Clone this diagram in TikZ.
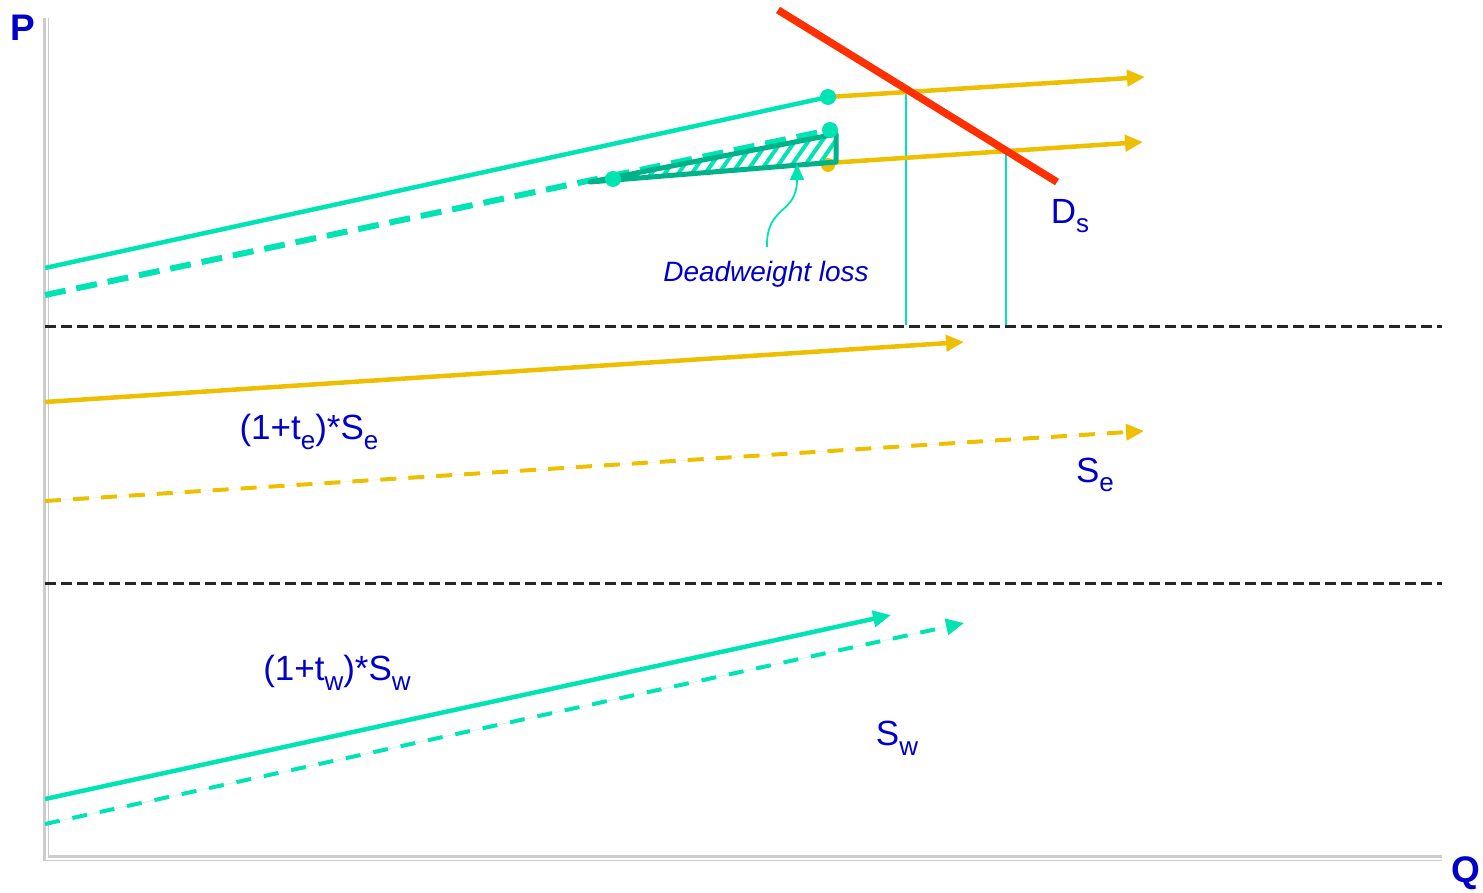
\documentclass[tikz,border=0pt]{standalone}
\usepackage{fontspec}
\setmainfont{Liberation Sans}
\usetikzlibrary{arrows.meta,patterns.meta}
\definecolor{tealc}{RGB}{0,228,180}
\definecolor{dteal}{RGB}{0,178,138}
\definecolor{yell}{RGB}{236,192,0}
\definecolor{redc}{RGB}{255,48,0}
\definecolor{bluet}{RGB}{0,0,200}
\newcommand{\lsub}[1]{\raisebox{-0.28em}{\fontsize{26}{26}\selectfont #1}}
\tikzset{
  lab/.style={text=bluet, font=\fontsize{35}{35}\selectfont, inner sep=0pt},
  axl/.style={text=bluet, font=\fontsize{37}{37}\selectfont\bfseries, inner sep=0pt},
  tip/.style={-{Triangle[length=18pt,width=16pt]}},
  tealline/.style={draw=tealc, line width=4.5pt},
  yelline/.style={draw=yell, line width=4.5pt},
  sep/.style={draw=black!85, line width=3pt, dash pattern=on 11pt off 5pt},
  guide/.style={draw=tealc, line width=1.6pt},
  dot/.style={circle, fill=tealc, inner sep=0pt, minimum size=16pt},
}
\begin{document}
\begin{tikzpicture}[x=1pt,y=-1pt]
\useasboundingbox (0,0) rectangle (1483,893);
% axes
\coordinate (O) at (46,858);
\coordinate (Ytop) at (46,18);
\coordinate (Xend) at (1442,858);
\draw[gray!40, line width=6pt] (Ytop) -- (O) -- (Xend);
\draw[white, line width=2.5pt] ([xshift=1pt]Ytop) -- ([xshift=1pt,yshift=-1pt]O) -- ([yshift=-1pt]Xend);
\node[axl] (P) at (23,28) {P};
\node[axl] (Q) at (1466,873) {Q};

% separators
\coordinate (s1a) at (45,326); \coordinate (s1b) at (1442,326);
\coordinate (s2a) at (45,583); \coordinate (s2b) at (1442,583);
\draw[sep] (s1a) -- (s1b);
\draw[sep] (s2a) -- (s2b);

% ---------- top panel ----------
\coordinate (a1) at (45,268); \coordinate (a2) at (828,97);
\coordinate (b1) at (45,295); \coordinate (b2) at (830,130); \coordinate (b3) at (613,179);
\coordinate (ya) at (828,97); \coordinate (yb) at (1145,77);
\coordinate (yc) at (828,163); \coordinate (yd) at (1143,142);
\coordinate (r1) at (778,10); \coordinate (r2) at (1057,182);
\coordinate (v1t) at (906,93); \coordinate (v1b) at (906,325);
\coordinate (v2t) at (1006,151); \coordinate (v2b) at (1006,325);
\coordinate (t1) at (590,182); \coordinate (t2) at (836,134); \coordinate (t3) at (836,162);

\draw[guide] (v1t) -- (v1b);
\draw[guide] (v2t) -- (v2b);
\draw[tealline] (a1) -- (a2);
\draw[yelline, tip, fill=yell] (ya) -- (yb);
\draw[yelline, tip, fill=yell] (yc) -- (yd);
\fill[yell] (828,165) circle (7pt);
\draw[draw=tealc, line width=6pt, dash pattern=on 21pt off 11pt] (b1) -- (b2);
\fill[pattern={Lines[angle=55,distance=11pt,line width=4pt]}, pattern color=tealc] (t1) -- (t2) -- (t3) -- cycle;
\draw[draw=dteal, line width=5pt, line join=round] (t1) -- (t2) -- (t3) -- cycle;
\node[dot] (d1) at (a2) {};
\node[dot] (d2) at (b2) {};
\node[dot] (d3) at (b3) {};
\draw[redc, line width=7.5pt] (r1) -- (r2);
\node[lab] (Ds) at (1070,216) {D\lsub{s}};

\node[text=bluet, font=\fontsize{28}{28}\selectfont\itshape, inner sep=0pt] (dwl) at (766,274) {Deadweight loss};
\coordinate (dwlstart) at (767,247);
\coordinate (dwltip) at (797,164);
\draw[tealc, line width=1.8pt, -{Triangle[length=16pt,width=14pt]}] (dwlstart) .. controls (766,205) and (797,215) .. (dwltip);

% ---------- middle panel ----------
\coordinate (e1) at (45,402); \coordinate (e2) at (964,342);
\coordinate (f1) at (45,501); \coordinate (f2) at (1144,431);
\draw[yelline, tip, fill=yell] (e1) -- (e2);
\draw[draw=yell, line width=4pt, dash pattern=on 16pt off 12pt, tip, fill=yell] (f1) -- (f2);
\node[lab] (te) at (309,432) {(1+t\lsub{e})*S\lsub{e}};
\node[lab] (Se) at (1095,475) {S\lsub{e}};

% ---------- bottom panel ----------
\coordinate (w1) at (45,799); \coordinate (w2) at (891,615);
\coordinate (x1) at (45,824); \coordinate (x2) at (964,623);
\draw[tealline, tip, fill=tealc] (w1) -- (w2);
\draw[draw=tealc, line width=4pt, dash pattern=on 15pt off 13pt, tip, fill=tealc] (x1) -- (x2);
\node[lab] (tw) at (337,673) {(1+t\lsub{w})*S\lsub{w}};
\node[lab] (Sw) at (897,738) {S\lsub{w}};
\end{tikzpicture}
\end{document}
